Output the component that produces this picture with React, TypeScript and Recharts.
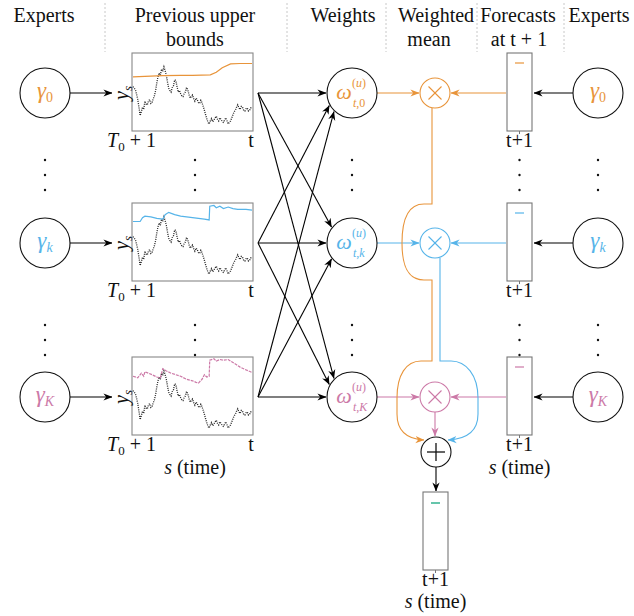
import React from 'react';
import { ScatterChart, Scatter, XAxis, YAxis, LineChart, Line, Customized } from 'recharts';

// ---------- data ----------
const headerLine1 = ['Experts', 'Previous upper', 'Weights', 'Weighted', 'Forecasts', 'Experts'];
const headerLine2 = ['', 'bounds', '', 'mean', 'at t + 1', ''];
const expertSubscripts = ['0', 'k', 'K'];
const expertColors = ['#E8943A', '#56B4E9', '#CC79A7'];
const mixColor = '#009E73';

// observed series y_s (fraction of panel height), one value per time step
const observed = [
  0.57, 0.55, 0.53, 0.47, 0.4, 0.3, 0.19, 0.24, 0.3, 0.27, 0.38,
  0.34, 0.33, 0.38, 0.4, 0.35, 0.36, 0.41, 0.45, 0.52, 0.62,
  0.7, 0.75, 0.72, 0.8, 0.77, 0.83, 0.78, 0.72, 0.63, 0.55,
  0.52, 0.5, 0.56, 0.58, 0.66, 0.65, 0.57, 0.5, 0.52, 0.48,
  0.45, 0.44, 0.48, 0.5, 0.56, 0.53, 0.47, 0.42, 0.44, 0.46,
  0.41, 0.38, 0.42, 0.4, 0.36, 0.35, 0.39, 0.36, 0.31, 0.26,
  0.2, 0.15, 0.1, 0.08, 0.12, 0.15, 0.11, 0.13, 0.16, 0.18,
  0.14, 0.12, 0.16, 0.14, 0.11, 0.1, 0.13, 0.16, 0.12, 0.08,
  0.1, 0.12, 0.16, 0.2, 0.24, 0.26, 0.3, 0.33, 0.29, 0.27,
  0.31, 0.3, 0.26, 0.25, 0.28, 0.29, 0.25, 0.26, 0.29, 0.28,
];

const boundTimes0 = [0, 0.1, 0.25, 0.4, 0.5, 0.65, 0.7, 0.75, 0.82, 0.9, 1];
const boundValues0 = [0.7, 0.705, 0.715, 0.72, 0.72, 0.725, 0.76, 0.82, 0.87, 0.875, 0.875];

const boundTimes1 = [0, 0.06, 0.08, 0.1, 0.15, 0.2, 0.25, 0.27, 0.3, 0.35, 0.4, 0.5, 0.6, 0.64, 0.645, 0.68, 0.7, 0.73, 0.76, 0.8, 0.84, 0.88, 0.95, 1];
const boundValues1 = [0.77, 0.77, 0.82, 0.84, 0.83, 0.81, 0.8, 0.86, 0.89, 0.86, 0.84, 0.82, 0.8, 0.79, 0.97, 0.98, 0.95, 0.97, 0.94, 0.96, 0.94, 0.93, 0.93, 0.92];

const boundTimes2 = [0, 0.04, 0.07, 0.09, 0.1, 0.13, 0.16, 0.2, 0.23, 0.25, 0.28, 0.32, 0.36, 0.4, 0.45, 0.5, 0.53, 0.55, 0.58, 0.6, 0.62, 0.64, 0.645, 0.68, 0.7, 0.73, 0.76, 0.8, 0.83, 0.87, 0.9, 0.94, 0.97, 1];
const boundValues2 = [0.76, 0.74, 0.8, 0.76, 0.82, 0.8, 0.78, 0.75, 0.74, 0.86, 0.83, 0.8, 0.78, 0.76, 0.72, 0.7, 0.68, 0.67, 0.72, 0.78, 0.75, 0.76, 0.97, 0.99, 0.96, 0.98, 0.97, 0.98, 0.95, 0.91, 0.88, 0.85, 0.83, 0.81];

// ---------- layout ----------
const W = 634;
const H = 616;
const FONT = "'Liberation Serif', 'DejaVu Serif', serif";
const rowY = [93, 243, 397];
const headerX1 = [44, 195, 343, 436, 518, 599];
const headerX2 = [44, 195, 343, 429, 519, 599];
const separatorsX = [105, 287, 386, 477, 564];
const X_EXPL = 45;
const PANEL_L = 132;
const PANEL_W = 121;
const PANEL_H = 78;
const X_W = 352;
const X_CROSS = 435;
const FBOX_L = 507;
const FBOX_W = 25;
const X_EXPR = 598;
const PLUS = { x: 436, y: 452 };
const BOTTOM_BOX = { x: 423, y: 492 };
const R_BIG = 25;
const R_SMALL = 15;
const dotsY = [[160, 175, 190], [325, 340, 355]];

const toPoints = (ts: number[], vs: number[]) => ts.map((t, i) => ({ x: t, y: vs[i] }));
const observedData = observed.map((v, i) => ({ x: i / (observed.length - 1), y: v }));
const bounds = [
  toPoints(boundTimes0, boundValues0),
  toPoints(boundTimes1, boundValues1),
  toPoints(boundTimes2, boundValues2),
];

const colorKey = (c: string) => c.replace('#', '');
const CSS = `#root svg text, #root svg tspan { font-family: 'Liberation Serif', 'DejaVu Serif', serif !important; }`;

function T(props: any) {
  const { style, fill, ...rest } = props;
  return <text {...rest} fill={fill || '#111'} fontFamily={FONT} style={{ fontFamily: FONT, ...(style || {}) }} />;
}

function Arrow({ x1, y1, x2, y2, color = '#000' }: any) {
  return (
    <line x1={x1} y1={y1} x2={x2} y2={y2} stroke={color} strokeWidth={1.1}
      markerEnd={`url(#ah-${colorKey(color)})`} />
  );
}

function onCircle(cx: number, cy: number, r: number, deg: number) {
  const a = (deg * Math.PI) / 180;
  return { x: cx + r * Math.cos(a), y: cy + r * Math.sin(a) };
}

function Diagram() {
  const markerColors = ['#000', ...expertColors];
  const angles: Record<string, number> = {
    '1-0': 151, '2-0': 134,
    '0-1': 218, '2-1': 142,
    '0-2': 226, '1-2': 209,
  };
  const els: any[] = [];
  for (let s = 0; s < 3; s++) {
    for (let t = 0; t < 3; t++) {
      let end;
      if (s === t) end = { x: X_W - R_BIG - 1, y: rowY[t] };
      else end = onCircle(X_W, rowY[t], R_BIG + 1, angles[`${s}-${t}`]);
      els.push(<Arrow key={`pw${s}${t}`} x1={PANEL_L + PANEL_W + 5} y1={rowY[s]} x2={end.x} y2={end.y} />);
    }
  }
  return (
    <g>
      <defs>
        {markerColors.map((c) => (
          <marker key={c} id={`ah-${colorKey(c)}`} viewBox="0 0 10 10" refX={9.5} refY={5}
            markerWidth={9} markerHeight={9} markerUnits="userSpaceOnUse" orient="auto">
            <path d="M0,1 L10,5 L0,9 L3,5 z" fill={c} />
          </marker>
        ))}
      </defs>
      {separatorsX.map((x) => (
        <line key={x} x1={x} y1={3} x2={x} y2={52} stroke="#c8c8c8" strokeWidth={1} strokeDasharray="2 2" />
      ))}
      {headerLine1.map((t, i) => (
        <T key={`h1${i}`} x={headerX1[i]} y={22} fontSize={20} textAnchor="middle">{t}</T>
      ))}
      {headerLine2.map((t, i) => (t ? (
        <T key={`h2${i}`} x={headerX2[i]} y={46} fontSize={20} textAnchor="middle">{t}</T>
      ) : null))}

      {rowY.map((y, i) => (
        <Arrow key={`el${i}`} x1={X_EXPL + R_BIG} y1={y} x2={112} y2={y} />
      ))}
      {rowY.map((y, i) => (
        <g key={`pf${i}`}>
          <rect x={PANEL_L} y={y - 40} width={PANEL_W} height={PANEL_H} fill="none" stroke="#888" strokeWidth={1.1} />
          <T transform={`translate(128 ${y}) rotate(-90)`} textAnchor="middle" fontSize={20}>
            <tspan fontStyle="italic">y</tspan>
            <tspan fontStyle="italic" fontSize={13} dy={4}>s</tspan>
          </T>
          <T x={107} y={y - 40 + PANEL_H + 16} fontSize={20}>
            <tspan fontStyle="italic">T</tspan>
            <tspan fontSize={13} dy={4}>0</tspan>
            <tspan dy={-4}> + 1</tspan>
          </T>
          <T x={251} y={y - 40 + PANEL_H + 16} fontSize={20} textAnchor="middle">t</T>
        </g>
      ))}
      <T x={195} y={474} fontSize={20} textAnchor="middle">
        <tspan fontStyle="italic">s</tspan> (time)
      </T>

      {els}

      {rowY.map((y, i) => (
        <g key={`wc${i}`}>
          <Arrow x1={X_W + R_BIG} y1={y} x2={X_CROSS - R_SMALL - 1} y2={y} color={expertColors[i]} />
          <Arrow x1={FBOX_L - 1} y1={y} x2={X_CROSS + R_SMALL + 1} y2={y} color={expertColors[i]} />
          <Arrow x1={X_EXPR - R_BIG} y1={y} x2={FBOX_L + FBOX_W + 2} y2={y} />
        </g>
      ))}

      <path d={`M432,${rowY[0] + R_SMALL} V204 H424 C410,204 402,216 402,243 C402,270 410,280 424,280 H432 V361 H421 C406,361 397,375 397,398 V414 C397,430 405,439 424,440`}
        fill="none" stroke={expertColors[0]} strokeWidth={1.1} markerEnd={`url(#ah-${colorKey(expertColors[0])})`} />
      <path d={`M440,${rowY[1] + R_SMALL} V361 H451 C466,361 478,375 478,398 V414 C478,430 469,439 448,440`}
        fill="none" stroke={expertColors[1]} strokeWidth={1.1} markerEnd={`url(#ah-${colorKey(expertColors[1])})`} />
      <Arrow x1={X_CROSS} y1={rowY[2] + R_SMALL} x2={X_CROSS} y2={PLUS.y - R_SMALL - 1} color={expertColors[2]} />
      <Arrow x1={PLUS.x} y1={PLUS.y + R_SMALL} x2={PLUS.x} y2={BOTTOM_BOX.y - 1} />

      {rowY.map((y, i) => {
        const top = y - 40;
        const bottom = top + PANEL_H;
        const cx = FBOX_L + FBOX_W / 2;
        return (
          <g key={`fb${i}`}>
            <rect x={FBOX_L} y={top} width={FBOX_W} height={PANEL_H} fill="#fff" stroke="#777" strokeWidth={1.1} />
            <line x1={cx - 4.5} y1={top + 10} x2={cx + 4.5} y2={top + 10} stroke={expertColors[i]} strokeWidth={1.2} />
            <line x1={cx} y1={bottom} x2={cx} y2={bottom + 3} stroke="#777" strokeWidth={1} />
            <T x={cx} y={bottom + 16} fontSize={20} textAnchor="middle">t+1</T>
          </g>
        );
      })}
      <T x={FBOX_L + FBOX_W / 2} y={474} fontSize={20} textAnchor="middle">
        <tspan fontStyle="italic">s</tspan> (time)
      </T>
      <g>
        <rect x={BOTTOM_BOX.x} y={BOTTOM_BOX.y} width={FBOX_W} height={PANEL_H} fill="#fff" stroke="#777" strokeWidth={1.1} />
        <line x1={BOTTOM_BOX.x + FBOX_W / 2 - 4.5} y1={BOTTOM_BOX.y + 11} x2={BOTTOM_BOX.x + FBOX_W / 2 + 4.5} y2={BOTTOM_BOX.y + 11} stroke={mixColor} strokeWidth={1.2} />
        <line x1={BOTTOM_BOX.x + FBOX_W / 2} y1={BOTTOM_BOX.y + PANEL_H} x2={BOTTOM_BOX.x + FBOX_W / 2} y2={BOTTOM_BOX.y + PANEL_H + 3} stroke="#777" strokeWidth={1} />
        <T x={BOTTOM_BOX.x + FBOX_W / 2} y={586} fontSize={20} textAnchor="middle">t+1</T>
        <T x={BOTTOM_BOX.x + FBOX_W / 2} y={608} fontSize={20} textAnchor="middle">
          <tspan fontStyle="italic">s</tspan> (time)
        </T>
      </g>

      {[X_EXPL, 195, X_W, FBOX_L + FBOX_W / 2, X_EXPR].map((x) =>
        dotsY.map((ys, g) => ys.map((y) => (
          <circle key={`d${x}-${g}-${y}`} cx={x} cy={y} r={1.2} fill="#111" />
        ))))}
    </g>
  );
}

type NodeDatum = { x: number; y: number; kind: string; idx: number };
const nodes: NodeDatum[] = [
  ...rowY.map((y, i) => ({ x: X_EXPL, y, kind: 'expert', idx: i })),
  ...rowY.map((y, i) => ({ x: X_EXPR, y, kind: 'expert', idx: i })),
  ...rowY.map((y, i) => ({ x: X_W, y, kind: 'weight', idx: i })),
  ...rowY.map((y, i) => ({ x: X_CROSS, y, kind: 'cross', idx: i })),
  { x: PLUS.x, y: PLUS.y, kind: 'plus', idx: -1 },
];

function renderNode(props: any) {
  const { cx, cy, payload } = props;
  const kind = payload.kind;
  const i = payload.idx;
  const color = expertColors[i];
  const sub = expertSubscripts[i];
  if (kind === 'expert') {
    return (
      <g>
        <circle cx={cx} cy={cy} r={R_BIG} fill="#fff" stroke="#111" strokeWidth={1.1} />
        <T x={cx} y={cy + 5} textAnchor="middle" fontSize={23} fill={color}>
          <tspan fontStyle="italic">γ</tspan>
          <tspan fontSize={14} dy={4} fontStyle={sub === '0' ? 'normal' : 'italic'}>{sub}</tspan>
        </T>
      </g>
    );
  }
  if (kind === 'weight') {
    return (
      <g>
        <circle cx={cx} cy={cy} r={R_BIG} fill="#fff" stroke="#111" strokeWidth={1.1} />
        <T x={cx - 8} y={cy + 6} textAnchor="middle" fontSize={22} fill={color} style={{ fontStyle: 'italic' }}>ω</T>
        <T x={cx} y={cy - 6} fontSize={12} fill={color}>(<tspan fontStyle="italic">u</tspan>)</T>
        <T x={cx + 1} y={cy + 14} fontSize={12} fill={color}>
          <tspan fontStyle="italic">t</tspan>,<tspan fontStyle={sub === '0' ? 'normal' : 'italic'}>{sub}</tspan>
        </T>
      </g>
    );
  }
  if (kind === 'cross') {
    const d = 6.5;
    return (
      <g>
        <circle cx={cx} cy={cy} r={R_SMALL} fill="#fff" stroke={color} strokeWidth={1.1} />
        <line x1={cx - d} y1={cy - d} x2={cx + d} y2={cy + d} stroke={color} strokeWidth={1.1} />
        <line x1={cx - d} y1={cy + d} x2={cx + d} y2={cy - d} stroke={color} strokeWidth={1.1} />
      </g>
    );
  }
  const p = 9;
  return (
    <g>
      <circle cx={cx} cy={cy} r={R_SMALL} fill="#fff" stroke="#111" strokeWidth={1.1} />
      <line x1={cx - p} y1={cy} x2={cx + p} y2={cy} stroke="#111" strokeWidth={1.3} />
      <line x1={cx} y1={cy - p} x2={cx} y2={cy + p} stroke="#111" strokeWidth={1.3} />
    </g>
  );
}

export default function App() {
  return (
    <div style={{ position: 'absolute', left: 0, top: 0, width: W, height: H, background: '#fff', fontFamily: FONT }}>
      <style>{CSS}</style>
      <ScatterChart width={W} height={H} margin={{ top: 0, right: 0, bottom: 0, left: 0 }}>
        <XAxis type="number" dataKey="x" domain={[0, W]} hide />
        <YAxis type="number" dataKey="y" domain={[0, H]} reversed hide width={0} />
        <Customized component={Diagram} />
        <Scatter data={nodes} shape={renderNode} isAnimationActive={false} />
      </ScatterChart>
      {rowY.map((y, i) => (
        <div key={i} style={{ position: 'absolute', left: PANEL_L, top: y - 40 }}>
          <LineChart width={PANEL_W} height={PANEL_H} margin={{ top: 1, right: 1, bottom: 1, left: 1 }}>
            <XAxis type="number" dataKey="x" domain={[0, 1]} hide />
            <YAxis type="number" dataKey="y" domain={[0, 1]} hide width={0} />
            <Line data={observedData} dataKey="y" stroke="#222" strokeWidth={1.3}
              strokeDasharray="1 1.2" dot={false} isAnimationActive={false} />
            <Line data={bounds[i]} dataKey="y" stroke={expertColors[i]} strokeWidth={1.2}
              strokeDasharray={i === 2 ? '3 1' : undefined} dot={false} isAnimationActive={false} />
          </LineChart>
        </div>
      ))}
    </div>
  );
}
